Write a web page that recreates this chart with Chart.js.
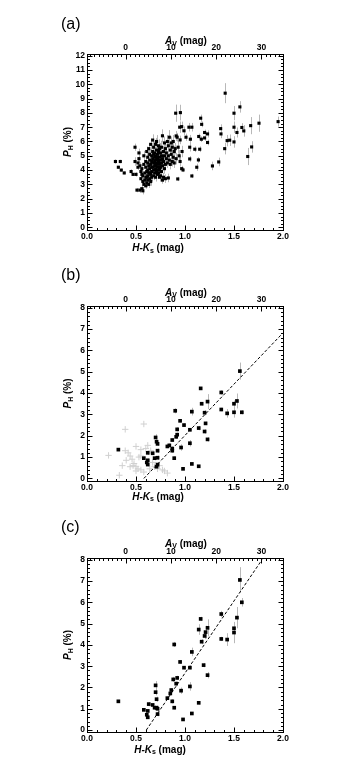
<!DOCTYPE html>
<html>
<head>
<meta charset="utf-8">
<script src="https://cdn.jsdelivr.net/npm/chart.js@4.4.1/dist/chart.umd.min.js"></script>
<style>
  html, body { margin: 0; padding: 0; background: #fff; }
  .panel { position: absolute; left: 0; width: 346px; }
</style>
</head>
<body>
<div class="panel" style="top:0"><canvas id="ca" width="346" height="260"></canvas></div>
<div class="panel" style="top:260px"><canvas id="cb" width="346" height="250"></canvas></div>
<div class="panel" style="top:510px"><canvas id="cc" width="346" height="267"></canvas></div>
<script>
// tick labels
const hkTicks = [0, 0.5, 1.0, 1.5, 2.0];
const avTicks = [0, 10, 20, 30];
const pTicksA = [0, 1, 2, 3, 4, 5, 6, 7, 8, 9, 10, 11, 12];
const pTicksBC = [0, 1, 2, 3, 4, 5, 6, 7, 8];

// (a) all stars: H-Ks colour, P_H (%), error
const hkA = [
  0.29, 0.32, 0.34, 0.35, 0.38, 0.45, 0.47, 0.49, 0.49, 0.50, 0.51, 0.53, 0.52, 0.54, 0.56, 0.57,
  0.52, 0.53, 0.54, 0.55, 0.55, 0.56, 0.56, 0.57, 0.57, 0.58, 0.58, 0.58, 0.59, 0.59, 0.60, 0.60,
  0.60, 0.60, 0.61, 0.61, 0.61, 0.62, 0.62, 0.62, 0.62, 0.62, 0.63, 0.63, 0.63, 0.63, 0.64, 0.64,
  0.64, 0.64, 0.65, 0.65, 0.65, 0.65, 0.66, 0.66, 0.66, 0.66, 0.67, 0.67, 0.67, 0.67, 0.68, 0.68,
  0.68, 0.68, 0.69, 0.69, 0.69, 0.69, 0.70, 0.70, 0.70, 0.70, 0.70, 0.71, 0.71, 0.71, 0.71, 0.72,
  0.72, 0.72, 0.72, 0.73, 0.73, 0.73, 0.73, 0.74, 0.74, 0.74, 0.74, 0.75, 0.75, 0.75, 0.76, 0.76,
  0.76, 0.76, 0.77, 0.77, 0.77, 0.78, 0.78, 0.78, 0.79, 0.79, 0.79, 0.80, 0.80, 0.80, 0.81, 0.81,
  0.82, 0.82, 0.83, 0.83, 0.83, 0.84, 0.84, 0.85, 0.85, 0.86, 0.86, 0.87, 0.87, 0.88, 0.88, 0.89,
  0.89, 0.90, 0.91, 0.93, 0.94, 0.95, 0.97, 0.68, 0.70, 0.72, 0.74, 0.69, 0.71, 0.73, 0.75, 0.77,
  0.61, 0.64, 0.66,
  0.905, 0.953, 0.946, 0.966, 1.04, 1.07, 1.16, 1.17, 0.99, 0.91, 0.92, 0.95, 1.01, 1.055, 1.14, 1.20,
  1.23, 1.23, 1.20, 1.167, 1.048, 1.10, 1.15, 1.048, 1.137, 1.12, 0.966, 0.98, 1.07, 0.926, 1.28, 1.344,
  1.364, 1.367, 1.41, 1.405, 1.43, 1.456, 1.50, 1.50, 1.50, 1.53, 1.56, 1.58, 1.60, 1.64, 1.67, 1.68,
  1.755, 1.95
];
const pA = [
  4.6, 4.2, 4.6, 4.0, 3.8, 3.9, 3.7, 4.6, 5.6, 3.7, 2.6, 5.2, 4.2, 2.6, 2.7, 2.55,
  4.5, 4.8, 4.3, 3.9, 3.4, 3.7, 4.1, 3.2, 3.6, 3.0, 4.4, 5.0, 3.3, 3.8, 2.9, 3.5,
  4.2, 4.6, 3.1, 3.9, 5.3, 3.3, 3.6, 4.0, 4.5, 4.9, 3.0, 3.8, 4.3, 5.5, 3.4, 4.1,
  4.7, 5.1, 3.2, 3.7, 4.4, 5.8, 3.9, 4.6, 5.0, 3.5, 4.2, 4.8, 5.3, 6.1, 3.6, 4.0,
  4.5, 5.6, 3.8, 4.3, 4.9, 5.2, 3.5, 4.1, 4.7, 5.0, 5.8, 3.9, 4.4, 5.4, 6.0, 3.7,
  4.2, 4.8, 5.1, 4.0, 4.6, 5.3, 5.7, 3.5, 4.4, 4.9, 5.5, 4.2, 4.7, 5.2, 3.9, 4.5,
  5.0, 5.6, 4.3, 4.8, 6.4, 3.5, 4.6, 5.3, 4.1, 5.0, 5.9, 3.4, 4.4, 5.5, 4.8, 5.2,
  4.5, 6.0, 3.45, 5.0, 5.7, 4.7, 6.3, 4.4, 5.4, 5.1, 5.9, 4.6, 5.6, 4.9, 6.0, 4.5,
  5.3, 5.5, 4.8, 5.6, 5.0, 4.6, 5.3, 5.1, 4.4, 4.5, 4.1, 4.6, 4.9, 3.8, 3.6, 3.3,
  3.5, 3.8, 4.2,
  7.98, 8.02, 7.0, 7.04, 7.0, 7.0, 7.63, 7.2, 6.75, 6.39, 6.3, 6.11, 6.3, 6.16, 6.35, 6.63,
  6.53, 5.93, 6.25, 6.16, 5.6, 5.46, 5.46, 4.78, 4.71, 4.2, 4.1, 4.01, 3.59, 3.38, 4.29, 4.57,
  6.9, 6.53, 9.38, 5.5, 6.06, 6.09, 7.98, 7.0, 5.97, 6.63, 8.42, 6.98, 6.74, 4.95, 7.11, 5.62,
  7.28, 7.39
];
const errA = [
  0.15, 0.1, 0.12, 0.1, 0.1, 0.15, 0.1, 0.3, 0.25, 0.15, 0.15, 0.3, 0.2, 0.2, 0.2, 0.25,
  0.3, 0.3, 0.25, 0.2, 0.2, 0.25, 0.3, 0.2, 0.25, 0.2, 0.3, 0.35, 0.25, 0.25, 0.2, 0.3,
  0.3, 0.3, 0.25, 0.3, 0.35, 0.25, 0.3, 0.3, 0.3, 0.35, 0.25, 0.3, 0.3, 0.4, 0.3, 0.3,
  0.35, 0.35, 0.3, 0.3, 0.35, 0.4, 0.3, 0.35, 0.35, 0.3, 0.3, 0.35, 0.4, 0.4, 0.3, 0.3,
  0.35, 0.4, 0.3, 0.35, 0.35, 0.4, 0.3, 0.3, 0.35, 0.4, 0.45, 0.3, 0.35, 0.4, 0.45, 0.3,
  0.35, 0.4, 0.4, 0.3, 0.35, 0.4, 0.45, 0.3, 0.35, 0.4, 0.4, 0.35, 0.35, 0.4, 0.3, 0.35,
  0.4, 0.45, 0.35, 0.4, 0.45, 0.3, 0.35, 0.4, 0.35, 0.4, 0.45, 0.3, 0.35, 0.4, 0.4, 0.4,
  0.35, 0.45, 0.3, 0.4, 0.45, 0.4, 0.5, 0.35, 0.4, 0.4, 0.45, 0.35, 0.4, 0.4, 0.45, 0.35,
  0.4, 0.4, 0.4, 0.45, 0.4, 0.35, 0.4, 0.35, 0.3, 0.35, 0.3, 0.35, 0.35, 0.3, 0.3, 0.25,
  0.25, 0.3, 0.3,
  0.6, 0.55, 0.4, 0.35, 0.3, 0.3, 0.25, 0.2, 0.3, 0.35, 0.3, 0.3, 0.25, 0.3, 0.2, 0.2,
  0.25, 0.2, 0.2, 0.2, 0.3, 0.2, 0.2, 0.2, 0.2, 0.25, 0.2, 0.15, 0.15, 0.15, 0.3, 0.3,
  0.3, 0.3, 0.7, 0.4, 0.4, 0.4, 0.5, 0.4, 0.4, 0.35, 0.4, 0.3, 0.4, 0.6, 0.6, 0.4,
  0.6, 0.35
];

// (b) selected stars
const hkB = [
  0.32, 0.58, 0.61, 0.62, 0.62, 0.62, 0.67, 0.69, 0.70, 0.71, 0.72, 0.72, 0.72, 0.71, 0.72, 0.82,
  0.84, 0.87, 0.87, 0.87, 0.89, 0.90, 0.91, 0.92, 0.92, 0.95, 0.96, 0.98, 0.99, 1.05, 1.05, 1.07,
  1.07, 1.14, 1.14, 1.16, 1.17, 1.20, 1.21, 1.20, 1.23, 1.23, 1.37, 1.37, 1.43, 1.50, 1.50, 1.53,
  1.56, 1.58
];
const pB = [
  1.35, 0.95, 0.75, 0.65, 1.2, 0.85, 1.18, 0.95, 1.92, 1.72, 1.62, 1.3, 0.97, 0.55, 0.65, 1.5,
  1.55, 1.8, 1.3, 1.4, 0.95, 3.17, 1.95, 2.05, 2.3, 2.7, 1.45, 0.45, 2.5, 2.28, 1.65, 3.13,
  0.68, 2.36, 0.57, 4.22, 3.5, 3.08, 2.58, 2.2, 3.6, 1.83, 4.03, 3.23, 3.05, 3.1, 3.5, 3.63,
  5.03, 3.1
];
const errB = [
  0.05, 0.08, 0.08, 0.08, 0.1, 0.08, 0.08, 0.1, 0.15, 0.1, 0.1, 0.1, 0.1, 0.1, 0.1, 0.08,
  0.08, 0.08, 0.1, 0.1, 0.08, 0.12, 0.1, 0.1, 0.1, 0.08, 0.15, 0.05, 0.08, 0.08, 0.15, 0.18,
  0.05, 0.1, 0.05, 0.06, 0.08, 0.12, 0.08, 0.1, 0.35, 0.1, 0.1, 0.08, 0.2, 0.25, 0.15, 0.35,
  0.4, 0.1
];
const hkGrey = [
  0.22, 0.33, 0.39, 0.39, 0.42, 0.44, 0.46, 0.48, 0.50, 0.52, 0.55, 0.47, 0.44, 0.58, 0.60, 0.62,
  0.65, 0.67, 0.69, 0.72, 0.74, 0.77, 0.79, 0.82, 0.53, 0.55, 0.50, 0.55, 0.58, 0.64, 0.36, 0.40,
  0.50
];
const pGrey = [
  1.08, 0.15, 2.3, 1.3, 1.2, 1.05, 0.9, 0.7, 0.55, 0.45, 0.4, 0.6, 0.55, 2.55, 1.4, 1.55,
  1.3, 0.75, 0.55, 0.45, 0.6, 0.4, 0.35, 0.25, 1.0, 1.05, 1.5, 1.35, 0.3, 0.45, 0.6, 0.85,
  0.35
];
const fitBx = [0.58, 2.0];
const fitBy = [0, 6.82];

// (c) corrected values
const hkC = [
  0.32, 0.58, 0.61, 0.62, 0.62, 0.63, 0.67, 0.69, 0.70, 0.70, 0.71, 0.72, 0.72, 0.71, 0.82, 0.85,
  0.86, 0.87, 0.88, 0.89, 0.89, 0.91, 0.92, 0.95, 0.96, 0.98, 0.99, 1.05, 1.05, 1.07, 1.07, 1.14,
  1.14, 1.16, 1.17, 1.19, 1.20, 1.21, 1.23, 1.23, 1.37, 1.37, 1.43, 1.50, 1.50, 1.53, 1.56, 1.58
];
const pC = [
  1.35, 0.95, 0.72, 0.6, 0.9, 1.22, 1.18, 1.05, 2.1, 1.78, 1.45, 1.0, 0.75, 1.05, 1.5, 1.72,
  1.88, 1.35, 2.38, 1.05, 4.02, 2.18, 2.45, 3.2, 1.85, 0.5, 2.93, 2.93, 2.05, 3.67, 0.78, 1.28,
  4.72, 5.22, 4.15, 3.05, 4.42, 4.6, 2.58, 4.8, 5.45, 4.28, 4.25, 4.78, 4.58, 5.28, 7.05, 6.0
];
const errC = [
  0.05, 0.08, 0.08, 0.08, 0.08, 0.1, 0.08, 0.1, 0.2, 0.15, 0.12, 0.1, 0.1, 0.1, 0.08, 0.08,
  0.08, 0.1, 0.12, 0.08, 0.12, 0.1, 0.1, 0.08, 0.15, 0.05, 0.08, 0.08, 0.2, 0.2, 0.05, 0.08,
  0.25, 0.1, 0.12, 0.1, 0.15, 0.3, 0.15, 0.4, 0.15, 0.1, 0.3, 0.25, 0.5, 0.5, 0.6, 0.2
];
const fitCx = [0.605, 1.786];
const fitCy = [0, 8];

// A_V = AV_K * (H-Ks - AV_0)
const AV_K = 21.67, AV_0 = 0.395;
const av = hk => AV_K * (hk - AV_0);

const FONT = 'Liberation Sans, Arial, Helvetica, sans-serif';
const tickFont = { family: FONT, size: 8.5, weight: 'bold' };

function pts(xs, ys) { return xs.map((x, i) => ({ x, y: ys[i] })); }

function drawRich(ctx, parts, cx, cy) {
  let w = 0;
  parts.forEach(p => { ctx.font = p.f; w += ctx.measureText(p.t).width; });
  let x = cx - w / 2;
  ctx.textBaseline = 'middle';
  ctx.textAlign = 'left';
  parts.forEach(p => {
    ctx.font = p.f;
    ctx.fillText(p.t, x, cy + (p.dy || 0));
    x += ctx.measureText(p.t).width;
  });
}

const frame = {
  id: 'frame',
  beforeDatasetsDraw(chart) {
    const { ctx } = chart, xs = chart.scales.x, ys = chart.scales.y;
    ctx.save();
    ctx.strokeStyle = '#b8b8b8';
    ctx.lineWidth = 1;
    chart.data.datasets.forEach(ds => {
      if (!ds.errors) return;
      ds.data.forEach((p, i) => {
        const px = Math.round(xs.getPixelForValue(p.x)) + 0.5;
        ctx.beginPath();
        ctx.moveTo(px, ys.getPixelForValue(p.y - ds.errors[i]));
        ctx.lineTo(px, ys.getPixelForValue(p.y + ds.errors[i]));
        ctx.stroke();
      });
    });
    ctx.restore();
  },
  afterDraw(chart, args, o) {
    const { ctx, chartArea: a } = chart;
    const xs = chart.scales.x, x2 = chart.scales.x2, ys = chart.scales.y;
    const L = Math.round(a.left) + 0.5, R = Math.round(a.right) + 0.5;
    const T = Math.round(a.top) + 0.5, B = Math.round(a.bottom) + 0.5;
    ctx.save();
    ctx.strokeStyle = '#000';
    ctx.lineWidth = 1;
    ctx.strokeRect(L, T, R - L, B - T);
    ctx.beginPath();
    // bottom: major 0.5, minor 0.1
    for (let i = 0; i <= 20; i++) {
      const px = Math.round(xs.getPixelForValue(i / 10)) + 0.5;
      const len = i % 5 === 0 ? 5 : 2.5;
      ctx.moveTo(px, B); ctx.lineTo(px, B - len);
    }
    // top: A_V, major 10, minor 1
    for (let v = Math.ceil(x2.min); v <= x2.max; v++) {
      const px = Math.round(x2.getPixelForValue(v)) + 0.5;
      const len = v % 10 === 0 ? 5 : 2.5;
      ctx.moveTo(px, T); ctx.lineTo(px, T + len);
    }
    // left and right
    const n = Math.round(o.yTop / o.yMinor);
    for (let i = 0; i <= n; i++) {
      const v = i * o.yMinor;
      const py = Math.round(ys.getPixelForValue(v)) + 0.5;
      const major = Math.abs(v - Math.round(v)) < 1e-6;
      const len = major ? 5 : 2.5;
      ctx.moveTo(L, py); ctx.lineTo(L + len, py);
      ctx.moveTo(R, py); ctx.lineTo(R - len, py);
    }
    ctx.stroke();

    ctx.fillStyle = '#000';
    const b10 = 'bold 10px ' + FONT, bi10 = 'italic bold 10px ' + FONT, b7 = 'bold 7px ' + FONT;
    // axis titles
    drawRich(ctx, [{ t: 'A', f: bi10 }, { t: 'V', f: b7, dy: 2.5 }, { t: ' (mag)', f: b10 }], o.topX, o.topY);
    drawRich(ctx, [{ t: 'H-K', f: bi10 }, { t: 's', f: b7, dy: 2.5 }, { t: ' (mag)', f: b10 }], o.botX, o.botY);
    ctx.save();
    ctx.translate(o.leftX, (a.top + a.bottom) / 2);
    ctx.rotate(-Math.PI / 2);
    drawRich(ctx, [{ t: 'P', f: bi10 }, { t: 'H', f: b7, dy: 2.5 }, { t: ' (%)', f: b10 }], 0, 0);
    ctx.restore();
    // panel label
    ctx.font = '16px ' + FONT;
    ctx.textAlign = 'left';
    ctx.textBaseline = 'middle';
    ctx.fillText(o.label, 61, o.labelY);
    ctx.restore();
  }
};

function makePanel(id, h, area, yMin, yMax, yTicks, yMinor, datasets, titles) {
  new Chart(document.getElementById(id), {
    type: 'scatter',
    data: { datasets },
    plugins: [frame],
    options: {
      responsive: false,
      animation: false,
      events: [],
      layout: { padding: { left: 0, right: 346 - area.right, top: 0, bottom: 0 } },
      plugins: {
        legend: { display: false },
        tooltip: { enabled: false },
        frame: Object.assign({ yMinor, yTop: yTicks[yTicks.length - 1] }, titles)
      },
      scales: {
        x: {
          type: 'linear', position: 'bottom', min: 0, max: 2,
          grid: { display: false, drawTicks: false }, border: { display: false },
          ticks: { font: tickFont, color: '#000', padding: 2, maxRotation: 0, callback: v => v.toFixed(1) },
          afterBuildTicks: s => { s.ticks = hkTicks.map(v => ({ value: v })); },
          afterFit: s => { s.height = h - area.bottom; }
        },
        x2: {
          type: 'linear', position: 'top', min: av(0), max: av(2),
          grid: { display: false, drawTicks: false }, border: { display: false },
          ticks: { font: tickFont, color: '#000', padding: 1, maxRotation: 0 },
          afterBuildTicks: s => { s.ticks = avTicks.map(v => ({ value: v })); },
          afterFit: s => { s.height = area.top; }
        },
        y: {
          type: 'linear', position: 'left', min: yMin, max: yMax,
          grid: { display: false, drawTicks: false }, border: { display: false },
          ticks: { font: tickFont, color: '#000', padding: 2 },
          afterBuildTicks: s => { s.ticks = yTicks.map(v => ({ value: v })); },
          afterFit: s => { s.width = area.left; }
        }
      }
    }
  });
}

const dots = { pointStyle: 'rect', pointRadius: 2.6, backgroundColor: '#000', borderWidth: 0 };
const dotsA = { pointStyle: 'rect', pointRadius: 2.2, backgroundColor: '#000', borderWidth: 0 };
const fitStyle = { showLine: true, pointRadius: 0, borderColor: '#000', borderWidth: 1, borderDash: [3, 2] };

makePanel('ca', 260, { left: 87, right: 283, top: 54, bottom: 230 }, -0.19, 12.12, pTicksA, 0.25, [
  Object.assign({ data: pts(hkA, pA), errors: errA }, dotsA)
], { label: '(a)', labelY: 25, topX: 186, topY: 41.5, botX: 158, botY: 248.5, leftX: 68.5 });

makePanel('cb', 250, { left: 87, right: 283, top: 46, bottom: 221 }, -0.12, 8.08, pTicksBC, 0.2, [
  Object.assign({ data: pts(hkB, pB), errors: errB }, dots),
  Object.assign({ data: pts(fitBx, fitBy) }, fitStyle),
  { data: pts(hkGrey, pGrey), pointStyle: 'cross', pointRadius: 3.2, borderColor: '#d0d0d0', borderWidth: 1 }
], { label: '(b)', labelY: 15.5, topX: 186, topY: 33, botX: 158, botY: 237, leftX: 68.5 });

makePanel('cc', 267, { left: 87, right: 283, top: 48, bottom: 222 }, -0.09, 8.08, pTicksBC, 0.2, [
  Object.assign({ data: pts(hkC, pC), errors: errC }, dots),
  Object.assign({ data: pts(fitCx, fitCy) }, fitStyle)
], { label: '(c)', labelY: 17.5, topX: 186, topY: 34, botX: 160, botY: 240, leftX: 68.5 });
</script>
</body>
</html>
